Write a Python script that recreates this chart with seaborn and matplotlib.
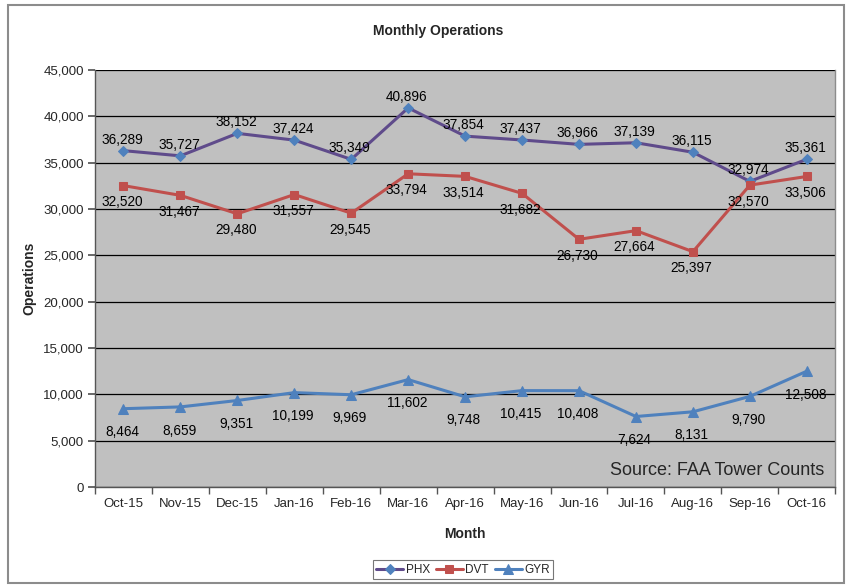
import numpy as np
import pandas as pd
import matplotlib
matplotlib.use("Agg")
import matplotlib.pyplot as plt
import seaborn as sns
from matplotlib.patches import Rectangle
from matplotlib.ticker import FuncFormatter, MultipleLocator

months = ["Oct-15", "Nov-15", "Dec-15", "Jan-16", "Feb-16", "Mar-16", "Apr-16",
          "May-16", "Jun-16", "Jul-16", "Aug-16", "Sep-16", "Oct-16"]
phx = [36289, 35727, 38152, 37424, 35349, 40896, 37854, 37437, 36966, 37139, 36115, 32974, 35361]
dvt = [32520, 31467, 29480, 31557, 29545, 33794, 33514, 31682, 26730, 27664, 25397, 32570, 33506]
gyr = [8464, 8659, 9351, 10199, 9969, 11602, 9748, 10415, 10408, 7624, 8131, 9790, 12508]

sns.set_theme(style="white")
plt.rcParams["font.family"] = ["Liberation Sans", "DejaVu Sans"]

fig = plt.figure(figsize=(8.48, 5.87), dpi=100)
ax = fig.add_axes([0.112, 0.170, 0.873, 0.711])
ax.set_facecolor("#C0C0C0")

# outer chart border
fig.patches.append(Rectangle((0.009, 0.007), 0.986, 0.985, transform=fig.transFigure,
                             fill=False, edgecolor="#8C8C8C", linewidth=1.5))

# name, values, line colour, marker colour, marker, size, label offset (pt)
series = [
    ("PHX", phx, "#5F4B8B", "#4F81BD", "D", 5, 8),
    ("DVT", dvt, "#C0504D", "#C0504D", "s", 6, -12),
    ("GYR", gyr, "#4F81BD", "#4F81BD", "^", 7, -17),
]

df = pd.DataFrame({"Month": months})
for name, vals, lc, mc, mk, ms, off in series:
    df[name] = vals
    sns.lineplot(data=df, x="Month", y=name, ax=ax, color=lc, linewidth=2.2,
                 marker=mk, markersize=ms, markerfacecolor=mc, markeredgecolor=mc,
                 label=name, sort=False)
    for i, v in enumerate(vals):
        ax.annotate(f"{v:,}", (i, v), xytext=(-1, off), textcoords="offset points",
                    ha="center", va="center", fontsize=9.8, color="black")

ax.set_xlim(-0.5, len(months) - 0.5)
ax.set_ylim(0, 45000)
ax.yaxis.set_major_locator(MultipleLocator(5000))
ax.yaxis.set_major_formatter(FuncFormatter(lambda v, p: f"{int(v):,}"))
ax.grid(axis="y", color="black", linewidth=0.9)
ax.set_axisbelow(True)
ax.spines["top"].set_visible(False)
ax.spines["right"].set_color("#8C8C8C")
ax.spines["right"].set_linewidth(1.0)
for s in ["left", "bottom"]:
    ax.spines[s].set_color("#555555")
    ax.spines[s].set_linewidth(1.0)

ax.set_xticks(range(len(months)))
ax.set_xticklabels(months)
ax.set_xticks(np.arange(-0.5, len(months), 1), minor=True)
ax.tick_params(axis="x", which="major", length=0, pad=8, labelsize=9.5)
ax.tick_params(axis="x", which="minor", length=5, color="#555555", bottom=True)
ax.tick_params(axis="y", length=5, color="#555555", left=True, labelsize=9.5, pad=3)

ax.set_xlabel("Month", fontsize=10, fontweight="bold", labelpad=12)
ax.set_ylabel("Operations", fontsize=10, fontweight="bold", labelpad=5)
fig.text(0.517, 0.947, "Monthly Operations", ha="center", va="center",
         fontsize=10, fontweight="bold")
ax.text(0.985, 0.02, "Source: FAA Tower Counts", transform=ax.transAxes,
        ha="right", va="bottom", fontsize=13)

leg = ax.legend(loc="center", bbox_to_anchor=(0.497, -0.198), ncol=3, frameon=True,
                fancybox=False, edgecolor="#555555", fontsize=8.5, handlelength=2.3,
                handletextpad=0.2, columnspacing=0.5, borderpad=0.3)
leg.get_frame().set_linewidth(0.8)

fig.savefig("out.png", dpi=100)
